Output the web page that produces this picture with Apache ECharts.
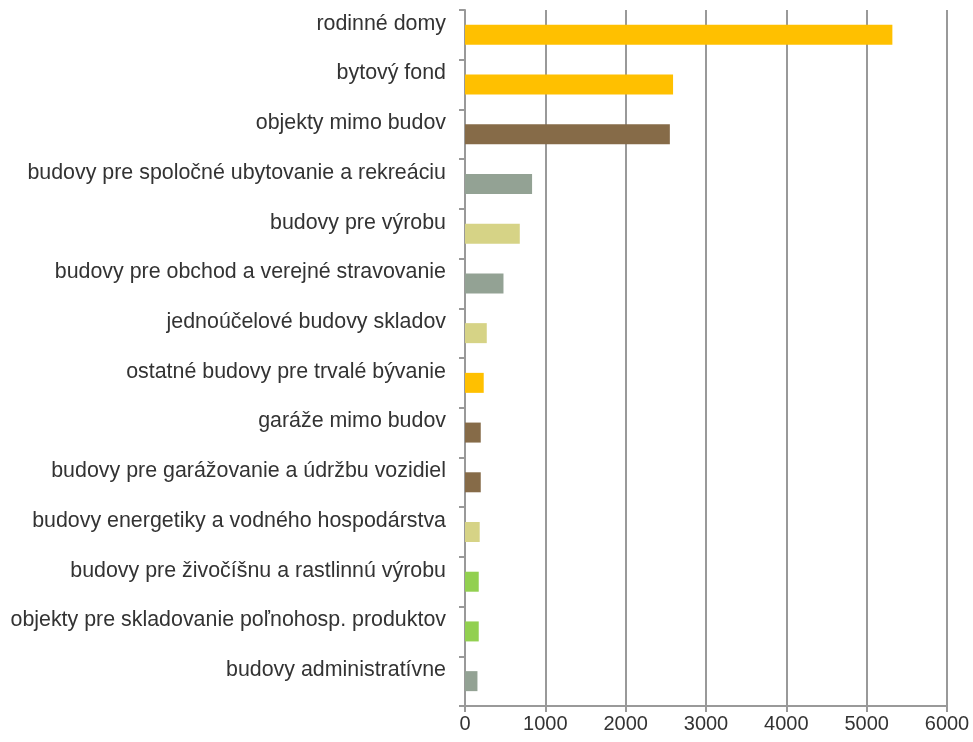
<!DOCTYPE html>
<html>
<head>
<meta charset="utf-8">
<script src="https://cdn.jsdelivr.net/npm/echarts@6/dist/echarts.min.js"></script>
<style>html,body{margin:0;padding:0;background:#fff}#c{width:973px;height:742px}</style>
</head>
<body>
<div id="c"></div>
<script>
const categories = [
  "rodinné domy",
  "bytový fond",
  "objekty mimo budov",
  "budovy pre spoločné ubytovanie a rekreáciu",
  "budovy pre výrobu",
  "budovy pre obchod a verejné stravovanie",
  "jednoúčelové budovy skladov",
  "ostatné budovy pre trvalé bývanie",
  "garáže mimo budov",
  "budovy pre garážovanie a údržbu vozidiel",
  "budovy energetiky a vodného hospodárstva",
  "budovy pre živočíšnu a rastlinnú výrobu",
  "objekty pre skladovanie poľnohosp. produktov",
  "budovy administratívne"
];
const values = [5320, 2590, 2550, 835, 682, 479, 271, 233, 196, 196, 183, 171, 171, 155];
const barColors = ["#FFC000", "#FFC000", "#866B48", "#93A294", "#D6D386", "#93A294", "#D6D386",
  "#FFC000", "#866B48", "#866B48", "#D6D386", "#92D050", "#92D050", "#93A294"];
const xTicks = [0, 1000, 2000, 3000, 4000, 5000, 6000];

const chart = echarts.init(document.getElementById('c'), null, {renderer: 'canvas'});
chart.setOption({
  animation: false,
  backgroundColor: '#ffffff',
  grid: {left: 465, right: 26, top: 10, bottom: 36, containLabel: false},
  xAxis: {
    type: 'value',
    min: xTicks[0],
    max: xTicks[xTicks.length - 1],
    interval: 1000,
    axisLine: {show: true, lineStyle: {color: '#999999', width: 2}},
    axisTick: {show: true, length: 6, lineStyle: {color: '#999999', width: 2}},
    axisLabel: {color: '#333333', fontSize: 20, fontFamily: 'Liberation Sans, Arial, sans-serif', margin: 8,
      formatter: v => String(v)},
    splitLine: {show: true, lineStyle: {color: '#999999', width: 2}}
  },
  yAxis: {
    type: 'category',
    data: categories,
    inverse: true,
    axisLine: {show: true, lineStyle: {color: '#999999', width: 2}},
    axisTick: {show: true, length: 6, alignWithLabel: false, lineStyle: {color: '#999999', width: 2}},
    axisLabel: {color: '#333333', fontSize: 21.4, fontFamily: 'Liberation Sans, Arial, sans-serif', margin: 19, verticalAlign: 'bottom', lineHeight: 22}
  },
  series: [{
    type: 'bar',
    data: values.map((v, i) => ({value: v, itemStyle: {color: barColors[i]}})),
    barWidth: 20
  }]
});
</script>
</body>
</html>
